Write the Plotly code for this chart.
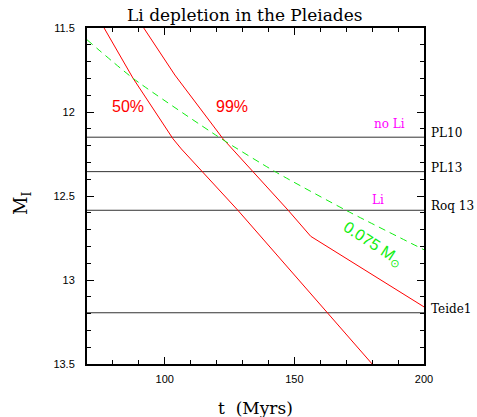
import plotly.graph_objects as go

# 50% and 99% Li depletion isochrones (t in Myr, M_I)
t50 = [76.6, 87.8, 103.2, 106.4, 128.2, 180.0]
M50 = [11.50, 11.80, 12.16, 12.22, 12.585, 13.50]
t99 = [91.9, 103.9, 122.5, 147.6, 156.3, 200.0]
M99 = [11.50, 11.78, 12.16, 12.585, 12.74, 13.16]
# 0.075 Msun track
tmass = [70.0, 87.8, 121.9, 143.1, 169.9, 200.0]
Mmass = [11.57, 11.80, 12.16, 12.36, 12.585, 12.82]
# Objects
star_names = ["PL10", "PL13", "Roq 13", "Teide1"]
star_M = [12.15, 12.355, 12.585, 13.195]
x_range = [70, 200]
y_range = [13.5, 11.5]
xticks = [100, 150, 200]
yticks = [11.5, 12, 12.5, 13, 13.5]
ytick_text = ["11.5", "12", "12.5", "13", "13.5"]

fig = go.Figure()
for m in star_M:
    fig.add_trace(go.Scatter(x=x_range, y=[m, m], mode="lines",
                             line=dict(color="#333333", width=1), showlegend=False, hoverinfo="skip"))
fig.add_trace(go.Scatter(x=t50, y=M50, mode="lines", line=dict(color="#ff0000", width=1), showlegend=False))
fig.add_trace(go.Scatter(x=t99, y=M99, mode="lines", line=dict(color="#ff0000", width=1), showlegend=False))
fig.add_trace(go.Scatter(x=tmass, y=Mmass, mode="lines",
                         line=dict(color="#11ee11", width=1, dash="7px,5px", shape="spline", smoothing=0.6),
                         showlegend=False))

serif = "DejaVu Serif"
sans = "Liberation Sans"
ann = []
for n, m in zip(star_names, star_M):
    ann.append(dict(x=1, xref="paper", y=m, yref="y", text=n, showarrow=False,
                    xanchor="left", yanchor="middle", xshift=5, yshift=4,
                    font=dict(family=serif, size=12, color="black")))
ann += [
    dict(x=85.7, y=11.97, text="50%", showarrow=False, font=dict(family=sans, size=16, color="#ff0000")),
    dict(x=125.9, y=11.97, text="99%", showarrow=False, font=dict(family=sans, size=16, color="#ff0000")),
    dict(x=186.5, y=12.074, text="no Li", showarrow=False, font=dict(family=serif, size=12, color="#ff00ff")),
    dict(x=182.1, y=12.526, text="Li", showarrow=False, font=dict(family=serif, size=12, color="#ff00ff")),
    dict(x=180.3, y=12.79, text="0.075 M<sub>\u2299</sub>", showarrow=False, textangle=33,
         font=dict(family=sans, size=16, color="#11ee11")),
    dict(x=224/477, xref="paper", y=1 + 13/336, yref="paper", text="Li depletion in the Pleiades",
         showarrow=False, xanchor="center", yanchor="middle", font=dict(family=serif, size=17, color="black")),
    dict(x=0.5, xref="paper", y=-44/336, yref="paper", text="t  (Myrs)", showarrow=False,
         xanchor="center", yanchor="middle", font=dict(family=serif, size=17, color="black")),
    dict(x=-65/337, xref="paper", y=0.5 - 8/336, yref="paper", text="M<sub>I</sub>", showarrow=False,
         textangle=-90, xanchor="center", yanchor="middle", font=dict(family=serif, size=18, color="black")),
]
for a in ann:
    a.setdefault("xref", "x")
    a.setdefault("yref", "y")

fig.update_layout(
    width=477, height=417, margin=dict(l=87, r=53, t=28, b=53),
    plot_bgcolor="white", paper_bgcolor="white", annotations=ann,
    xaxis=dict(range=x_range, tickvals=xticks, ticks="inside", ticklen=7, tickwidth=1, tickcolor="black",
               showline=True, linewidth=2, linecolor="black", mirror="ticks", showgrid=False, zeroline=False,
               tickfont=dict(family=sans, size=11, color="black"), ticklabelstandoff=4,
               minor=dict(tick0=70, dtick=10, ticks="inside", ticklen=4, tickcolor="black", showgrid=False)),
    yaxis=dict(range=y_range, tickvals=yticks, ticktext=ytick_text, ticks="inside", ticklen=7, tickwidth=1,
               tickcolor="black", showline=True, linewidth=2, linecolor="black", mirror="ticks",
               showgrid=False, zeroline=False, tickfont=dict(family=sans, size=11, color="black"),
               ticklabelstandoff=8,
               minor=dict(tick0=11.5, dtick=0.1, ticks="inside", ticklen=4, tickcolor="black", showgrid=False)),
)
fig.write_html("out.html")
